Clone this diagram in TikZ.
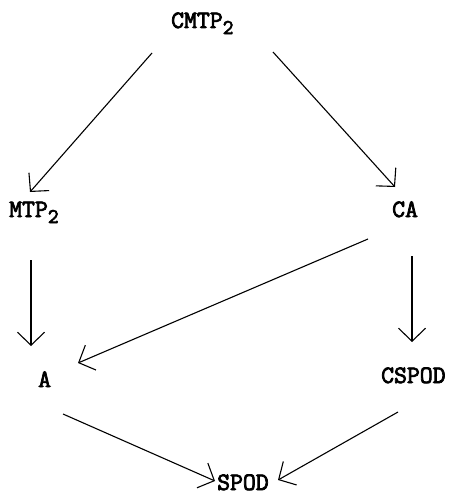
\documentclass[tikz,border=0pt]{standalone}
\usepackage{fontspec}
\newfontfamily\twfont[FakeBold=3]{Latin Modern Mono}
\usetikzlibrary{arrows.meta}
\newcommand{\lowtwo}{\raisebox{-6pt}{\fontsize{21}{21}\selectfont 2}}
\begin{document}
\begin{tikzpicture}[x=1pt,y=-1pt,
  lbl/.style={anchor=base west,inner sep=0pt,font=\twfont\fontsize{25}{25}\selectfont},
  arr/.style={line width=1.1pt,-{Straight Barb[length=13pt,width=27pt,line width=1.1pt]}}]
\useasboundingbox (0,0) rectangle (449,495);
\node[lbl] (cmtp) at (171,28) {CMTP\lowtwo};
\node[lbl] (mtp) at (9,217) {MTP\lowtwo};
\node[lbl] (ca) at (392,217) {CA};
\node[lbl] (a) at (38,387) {A};
\node[lbl] (cspod) at (381,383) {CSPOD};
\node[lbl] (spod) at (217,490) {SPOD};
\draw[arr] ([shift={(-19,25)}]cmtp.base west) -- ([shift={(21,-25)}]mtp.base west);
\draw[arr] ([shift={(102,24)}]cmtp.base west) -- ([shift={(3,-30)}]ca.base west);
\draw[arr] ([shift={(22,43)}]mtp.base west) -- ([shift={(-7,-41)}]a.base west);
\draw[arr] ([shift={(20,39)}]ca.base west) -- ([shift={(31,-41)}]cspod.base west);
\draw[arr] ([shift={(-24,22)}]ca.base west) -- ([shift={(40,-24)}]a.base west);
\draw[arr] ([shift={(25,27)}]a.base west) -- ([shift={(-2,-9)}]spod.base west);
\draw[arr] ([shift={(17,29)}]cspod.base west) -- ([shift={(61,-10)}]spod.base west);
\end{tikzpicture}
\end{document}
